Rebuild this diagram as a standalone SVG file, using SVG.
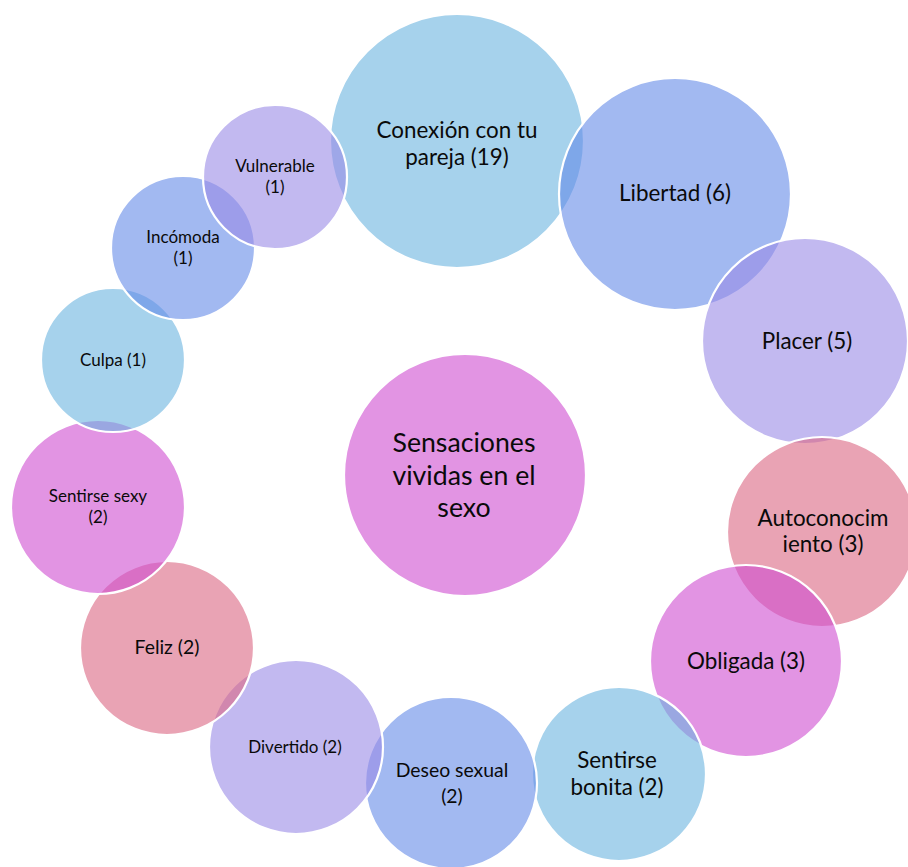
<svg xmlns="http://www.w3.org/2000/svg" width="908" height="867" viewBox="0 0 908 867">
  <style>
    .c { stroke: #ffffff; stroke-width: 2.2; fill-opacity: 0.6; }
    .blue { fill: #6bb4df; }
    .peri { fill: #648ae8; }
    .lav { fill: #998ae6; }
    .pink { fill: #da6682; }
    .mag { fill: #cf4dd0; }
    text { font-family: Lato, "Liberation Sans", sans-serif; fill: #0a0a0a; text-anchor: middle; }
    .xl { font-size: 26.7px; }
    .l { font-size: 22.4px; }
    .m { font-size: 19.4px; }
    .s { font-size: 17px; }
  </style>
  <rect width="908" height="867" fill="#ffffff"/>

  <!-- central topic -->
  <g id="center">
    <circle class="c mag" cx="465" cy="475" r="121" stroke="none"/>
    <text class="xl" x="464" y="452">Sensaciones</text>
    <text class="xl" x="464" y="485">vividas en el</text>
    <text class="xl" x="464" y="517">sexo</text>
  </g>

  <!-- ring of feelings, drawn clockwise so each one sits over the previous -->
  <g id="conexion">
    <circle class="c blue" cx="457" cy="141" r="127"/>
    <text class="l" x="457" y="138">Conexión con tu</text>
    <text class="l" x="457" y="165">pareja (19)</text>
  </g>
  <g id="libertad">
    <circle class="c peri" cx="675" cy="194" r="116"/>
    <text class="l" x="675" y="201">Libertad (6)</text>
  </g>
  <g id="placer">
    <circle class="c lav" cx="805" cy="341" r="103"/>
    <text class="l" x="807" y="349">Placer (5)</text>
  </g>
  <g id="autoconocimiento">
    <circle class="c pink" cx="822" cy="532" r="95"/>
    <text class="l" x="823" y="526">Autoconocim</text>
    <text class="l" x="823" y="552">iento (3)</text>
  </g>
  <g id="obligada">
    <circle class="c mag" cx="746" cy="661" r="96"/>
    <text class="l" x="746" y="669">Obligada (3)</text>
  </g>
  <g id="bonita">
    <circle class="c blue" cx="619" cy="774" r="87"/>
    <text class="l" x="617" y="768">Sentirse</text>
    <text class="l" x="617" y="795">bonita (2)</text>
  </g>
  <g id="deseo">
    <circle class="c peri" cx="451" cy="783" r="86"/>
    <text class="m" x="452" y="777">Deseo sexual</text>
    <text class="m" x="452" y="803">(2)</text>
  </g>
  <g id="divertido">
    <circle class="c lav" cx="296" cy="747" r="87"/>
    <text class="s" x="295" y="753">Divertido (2)</text>
  </g>
  <g id="feliz">
    <circle class="c pink" cx="167" cy="648" r="87"/>
    <text class="m" x="167" y="654">Feliz (2)</text>
  </g>
  <g id="sexy">
    <circle class="c mag" cx="98" cy="507" r="87"/>
    <text class="s" x="98" y="502">Sentirse sexy</text>
    <text class="s" x="98" y="523">(2)</text>
  </g>
  <g id="culpa">
    <circle class="c blue" cx="113" cy="360" r="72"/>
    <text class="s" x="113" y="366">Culpa (1)</text>
  </g>
  <g id="incomoda">
    <circle class="c peri" cx="183" cy="248" r="72"/>
    <text class="s" x="183" y="243">Incómoda</text>
    <text class="s" x="183" y="264">(1)</text>
  </g>
  <g id="vulnerable">
    <circle class="c lav" cx="275" cy="177" r="72"/>
    <text class="s" x="275" y="172">Vulnerable</text>
    <text class="s" x="275" y="193">(1)</text>
  </g>

  <g id="connectors"></g>
</svg>
